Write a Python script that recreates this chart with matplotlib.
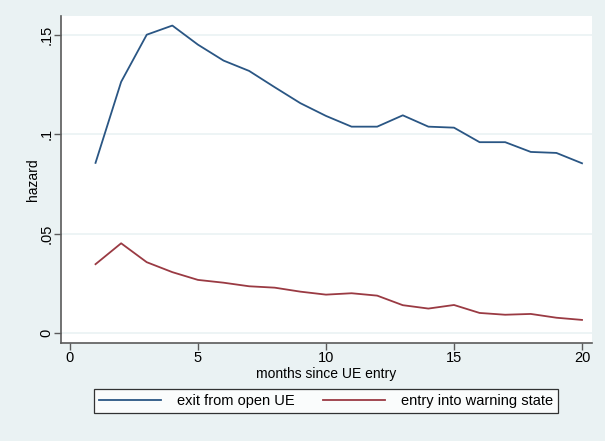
import matplotlib
matplotlib.use("Agg")
import matplotlib.pyplot as plt

plt.rcParams["font.family"] = ["Liberation Sans", "DejaVu Sans"]

months = list(range(1, 21))
exit_open_ue = [0.0856, 0.1263, 0.1500, 0.1546, 0.1450, 0.1370, 0.1318, 0.1236,
                0.1156, 0.1092, 0.1038, 0.1038, 0.1095, 0.1038, 0.1033, 0.0960,
                0.0960, 0.0911, 0.0906, 0.0854]
entry_warning = [0.0347, 0.0452, 0.0357, 0.0307, 0.0268, 0.0254, 0.0236, 0.0229,
                 0.0209, 0.0194, 0.0201, 0.0189, 0.0141, 0.0124, 0.0142, 0.0102,
                 0.0093, 0.0097, 0.0078, 0.0067]
x_ticks = [0, 5, 10, 15, 20]
y_ticks = [0, 0.05, 0.10, 0.15]
y_tick_labels = ["0", ".05", ".1", ".15"]

BG = "#eaf2f3"
BLUE = "#2a5684"
RED = "#9a3a43"

W, H = 605, 441
fig = plt.figure(figsize=(W / 100, H / 100), dpi=100, facecolor=BG)
ax = fig.add_axes([60.7 / W, (H - 343) / H, (592 - 60.7) / W, (343 - 16) / H])
ax.set_facecolor("white")

ax.plot(months, exit_open_ue, color=BLUE, linewidth=1.3, label="exit from open UE")
ax.plot(months, entry_warning, color=RED, linewidth=1.3, label="entry into warning state")

ax.set_xlim(-0.36, 20.39)
ax.set_ylim(-0.0049, 0.1594)
ax.set_xticks(x_ticks)
ax.set_yticks(y_ticks)
ax.set_yticklabels(y_tick_labels, rotation=90, va="center")
ax.grid(axis="y", color=BG, linewidth=1.2)
ax.set_axisbelow(True)

for side in ("top", "right"):
    ax.spines[side].set_visible(False)
for side in ("left", "bottom"):
    ax.spines[side].set_color("#5a5a5a")
    ax.spines[side].set_linewidth(1.2)
ax.tick_params(colors="#5a5a5a", labelcolor="black", labelsize=10.5, length=5, width=1)
ax.tick_params(axis="y", pad=0)
ax.tick_params(axis="x", pad=1)

ax.set_xlabel("months since UE entry", fontsize=10)
ax.xaxis.set_label_coords(0.5, -(374 - 343) / 327)
ax.xaxis.label.set_va("center")
ax.set_ylabel("hazard", fontsize=10)
ax.yaxis.set_label_coords((33 - 60.7) / 531.3, 0.5)
ax.yaxis.label.set_va("center")

leg = ax.legend(loc="center", bbox_to_anchor=(0.539, 0.091), bbox_transform=fig.transFigure,
                ncol=2, fontsize=10.5, frameon=True, fancybox=False, edgecolor="black",
                handlelength=4.2, columnspacing=2.0, borderpad=0.35, handletextpad=1.1)
leg.get_frame().set_linewidth(0.9)

fig.savefig("out.png", dpi=100, facecolor=BG)
